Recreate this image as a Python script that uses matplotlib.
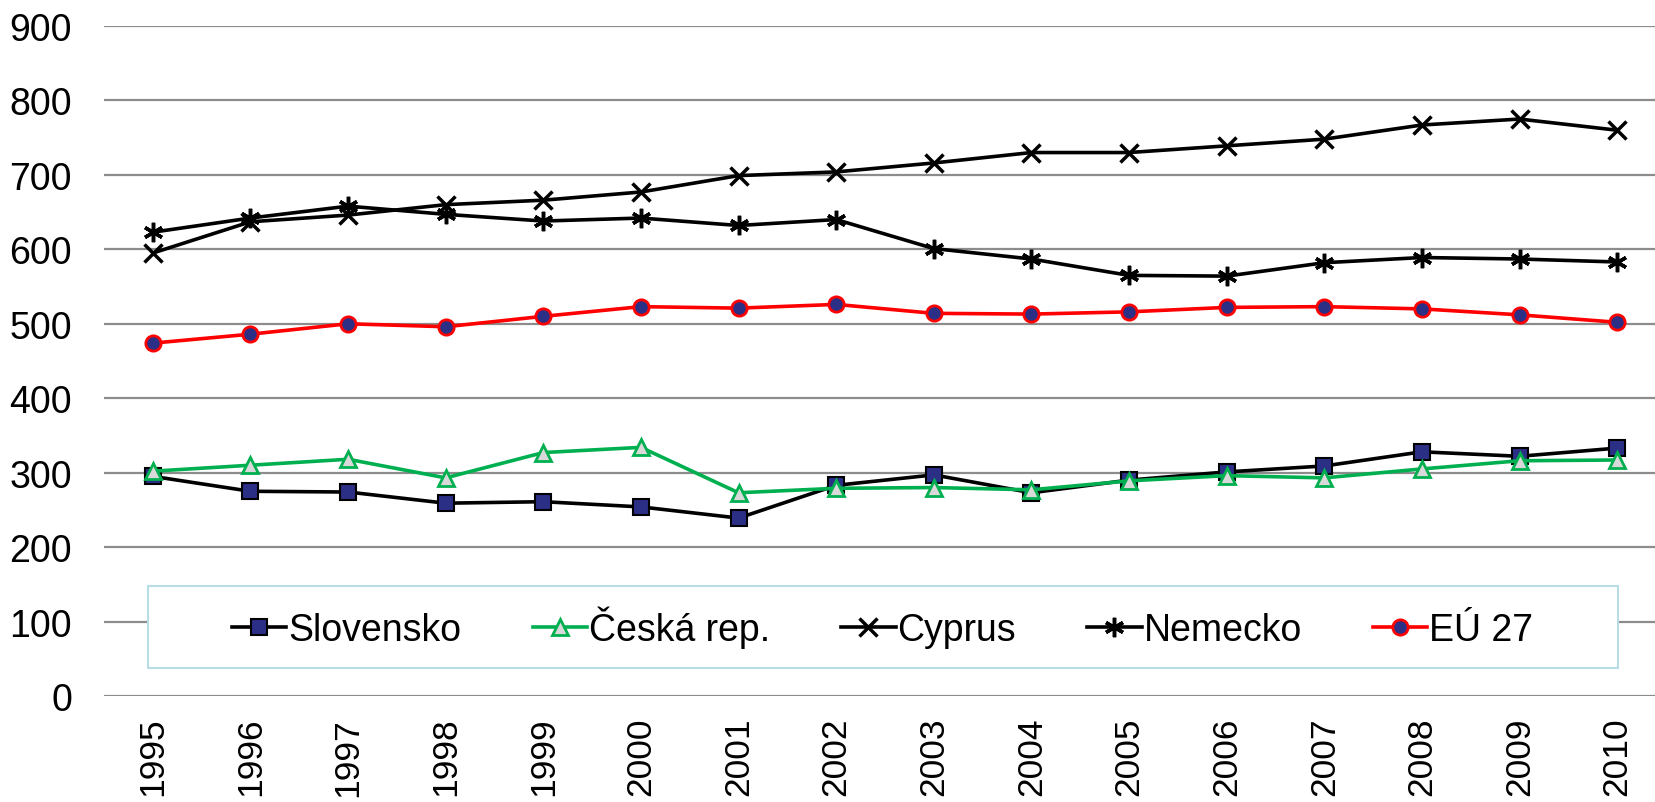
import matplotlib
matplotlib.use("Agg")
import matplotlib.pyplot as plt
from matplotlib.patches import Rectangle

plt.rcParams['font.family'] = ['Liberation Sans', 'DejaVu Sans']

years = ["1995", "1996", "1997", "1998", "1999", "2000", "2001", "2002",
         "2003", "2004", "2005", "2006", "2007", "2008", "2009", "2010"]
slovensko = [295, 275, 274, 259, 261, 254, 239, 283, 297, 273, 290, 301, 309, 328, 322, 333]
ceska = [302, 310, 318, 293, 327, 334, 273, 279, 280, 277, 289, 296, 293, 305, 316, 317]
cyprus = [595, 637, 646, 660, 666, 677, 699, 704, 716, 730, 730, 739, 748, 767, 775, 760]
nemecko = [623, 642, 658, 647, 638, 642, 632, 640, 601, 587, 565, 564, 582, 589, 587, 583]
eu27 = [474, 486, 500, 496, 510, 523, 521, 526, 514, 513, 516, 522, 523, 520, 512, 502]
yticks = [0, 100, 200, 300, 400, 500, 600, 700, 800, 900]

fig = plt.figure(figsize=(16.56, 8.03), dpi=100)
ax = fig.add_axes([104/1656, 0.132, 1562/1656, 0.8344])

x = list(range(len(years)))
lw = 2.6
ax.plot(x, slovensko, color='black', lw=lw, marker='s', ms=11, mfc='#2b2f86',
        mec='black', mew=1.5, label='Slovensko', zorder=3)
ax.plot(x, ceska, color='#00b050', lw=lw, marker='^', ms=11, mfc='#d9d9d9',
        mec='#00b050', mew=2, label='Česká rep.', zorder=4)
ax.plot(x, cyprus, color='black', lw=lw, marker='x', ms=13, mew=2.5,
        label='Cyprus', zorder=3)
ax.plot(x, nemecko, color='black', lw=lw, marker=(6, 2, 0), ms=14, mew=2.5,
        label='Nemecko', zorder=3)
ax.plot(x, eu27, color='red', lw=lw, marker='o', ms=11, mfc='#2b2f86',
        mec='red', mew=2, label='EÚ 27', zorder=3)

ax.set_xlim(-0.5, 15.5)
ax.set_ylim(0, 900)
ax.set_yticks(yticks)
ax.set_yticklabels([str(v) for v in yticks], fontsize=27)
ax.set_xticks(x)
ax.set_xticklabels(years, rotation=90, fontsize=25.5)
ax.tick_params(axis='y', length=0, pad=23)
ax.tick_params(axis='x', length=0, pad=15)
ax.yaxis.grid(True, color='#8c8c8c', lw=1.6)
ax.set_axisbelow(True)
for s in ax.spines.values():
    s.set_visible(False)

box = Rectangle((0.028, 0.0418), 0.941, 0.122, transform=ax.transAxes,
                facecolor='white', edgecolor='#b7dde8', lw=1.5, zorder=5)
ax.add_patch(box)
leg = ax.legend(loc='center', bbox_to_anchor=(0.028 + 0.941/2, 0.0418 + 0.061),
                ncol=5, fontsize=27, frameon=False,
                handlelength=1.45, handletextpad=0.05, columnspacing=1.9,
                borderaxespad=0, borderpad=0)
leg.set_zorder(6)

fig.savefig('out.png', dpi=100)
